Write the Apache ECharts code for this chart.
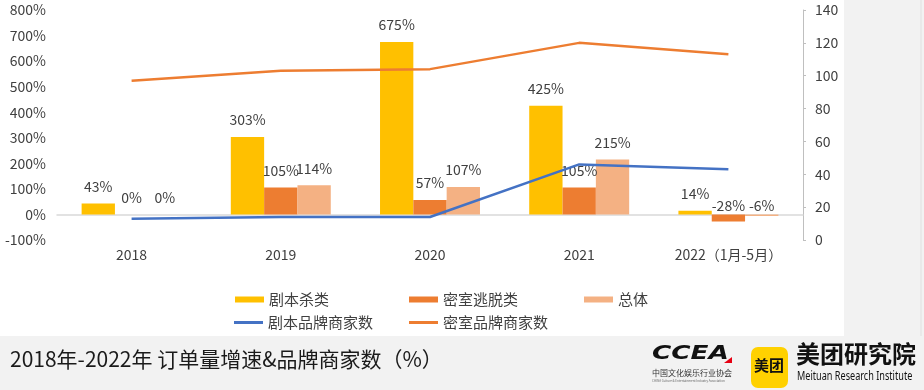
<!DOCTYPE html>
<html>
<head>
<meta charset="utf-8">
<script src="https://cdn.jsdelivr.net/npm/echarts@6/dist/echarts.min.js"></script>
<style>
html,body{margin:0;padding:0;background:#f2f2f2;}
#main{width:924px;height:390px;}
</style>
</head>
<body>
<div id="main"></div>
<script>
const categories = ['2018', '2019', '2020', '2021', '2022（1月-5月）'];
const scriptKill = [43, 303, 675, 425, 14];        // 剧本杀类 (%)
const escapeRoom = [0, 105, 57, 105, -28];         // 密室逃脱类 (%)
const overall = [0, 114, 107, 215, -6];            // 总体 (%)
const scriptBrands = [13, 14, 14, 46, 43];         // 剧本品牌商家数
const escapeBrands = [97, 103, 104, 120, 113];     // 密室品牌商家数
const leftTicks = { min: -100, max: 800, interval: 100 };
const rightTicks = { min: 0, max: 140, interval: 20 };

const FONT = '"Noto Sans CJK SC", "Noto Sans", sans-serif';
const TXT = '#404040';
const chart = echarts.init(document.getElementById('main'), null, { renderer: 'canvas' });

function barData(arr) {
  return arr.map(v => v < 0 ? { value: v, label: { distance: 2 } } : v);
}
const barLabel = {
  show: true, position: 'top', distance: 10, formatter: '{c}%',
  color: TXT, fontSize: 14, fontFamily: FONT
};

function legendItem(name, left, top, h) {
  return {
    data: [{ name: name, icon: 'rect' }],
    left: left, top: top, itemWidth: 29, itemHeight: h, itemGap: 0,
    textStyle: { color: TXT, fontSize: 15, fontFamily: FONT },
    padding: 0
  };
}

chart.setOption({
  backgroundColor: '#f2f2f2',
  animation: false,
  textStyle: { fontFamily: FONT },
  grid: { left: 57, right: 121, top: 10, bottom: 150, containLabel: false },
  legend: [
    legendItem('剧本杀类', 235, 292, 6),
    legendItem('密室逃脱类', 409, 292, 6),
    legendItem('总体', 584, 292, 6),
    legendItem('剧本品牌商家数', 234, 315, 3),
    legendItem('密室品牌商家数', 409, 315, 3)
  ],
  xAxis: {
    type: 'category', data: categories,
    axisLine: { show: true, onZero: true, lineStyle: { color: '#d9d9d9', width: 1.5 } },
    axisTick: { show: false },
    axisLabel: { color: TXT, fontSize: 14, fontFamily: FONT, margin: 8, interval: 0 }
  },
  yAxis: [
    {
      type: 'value', min: leftTicks.min, max: leftTicks.max, interval: leftTicks.interval,
      axisLine: { show: false }, axisTick: { show: false }, splitLine: { show: false },
      axisLabel: { formatter: '{value}%', color: TXT, fontSize: 14, fontFamily: FONT, margin: 11 }
    },
    {
      type: 'value', min: rightTicks.min, max: rightTicks.max, interval: rightTicks.interval,
      position: 'right',
      axisLine: { show: true, lineStyle: { color: '#bfbfbf' } },
      axisTick: { show: true, length: 3, lineStyle: { color: '#bfbfbf' } },
      splitLine: { show: false },
      axisLabel: { color: TXT, fontSize: 14, fontFamily: FONT, margin: 12 }
    }
  ],
  series: [
    { name: '剧本杀类', type: 'bar', data: barData(scriptKill), barGap: '0%', barCategoryGap: '33%',
      itemStyle: { color: '#FFC000' }, label: barLabel, z: 2 },
    { name: '密室逃脱类', type: 'bar', data: barData(escapeRoom), barGap: '0%', barCategoryGap: '33%',
      itemStyle: { color: '#ED7D31' }, label: barLabel, z: 2 },
    { name: '总体', type: 'bar', data: barData(overall), barGap: '0%', barCategoryGap: '33%',
      itemStyle: { color: '#F4B183' }, label: barLabel, z: 2 },
    { name: '剧本品牌商家数', type: 'line', yAxisIndex: 1, data: scriptBrands, showSymbol: false,
      symbol: 'none', lineStyle: { color: '#4472C4', width: 2.5 }, itemStyle: { color: '#4472C4' }, z: 3 },
    { name: '密室品牌商家数', type: 'line', yAxisIndex: 1, data: escapeBrands, showSymbol: false,
      symbol: 'none', lineStyle: { color: '#ED7D31', width: 2.5 }, itemStyle: { color: '#ED7D31' }, z: 3 }
  ],
  graphic: [
    { type: 'rect', z: -100, silent: true, shape: { x: 0, y: 0, width: 844, height: 336 }, style: { fill: '#ffffff' } },
    { type: 'line', z: -99, silent: true, shape: { x1: 921, y1: 0, x2: 921, y2: 336 }, style: { stroke: '#e0e0e0', lineWidth: 1 } },
    { type: 'text', x: 10, y: 349, style: { text: '2018年-2022年 订单量增速&品牌商家数（%）', fill: '#1a1a1a', font: '21px ' + FONT } },
    { type: 'text', x: 652, y: 344, scaleX: 1.25, scaleY: 0.95, style: { text: 'CCEA', fill: '#111', font: 'italic 900 21px "DejaVu Sans", sans-serif' } },
    { type: 'polygon', shape: { points: [[724, 363], [732, 363], [732, 357]] }, style: { fill: '#e60012' } },
    { type: 'text', x: 652, y: 369, style: { text: '中国文化娱乐行业协会', fill: '#333', font: '8px ' + FONT } },
    { type: 'text', x: 652, y: 379, style: { text: 'CHINA Culture & Entertainment Industry Association', fill: '#666', font: '3px ' + FONT } },
    { type: 'rect', shape: { x: 751, y: 347, width: 37, height: 41, r: 7 }, style: { fill: '#FFD100' } },
    { type: 'text', x: 754, y: 358, style: { text: '美团', fill: '#111', font: 'bold 15px ' + FONT } },
    { type: 'text', x: 796, y: 342, style: { text: '美团研究院', fill: '#111', font: 'bold 24px ' + FONT } },
    { type: 'text', x: 797, y: 371, scaleX: 0.76, style: { text: 'Meituan Research Institute', fill: '#111', font: '12px "Noto Sans", sans-serif' } }
  ]
});
</script>
</body>
</html>
